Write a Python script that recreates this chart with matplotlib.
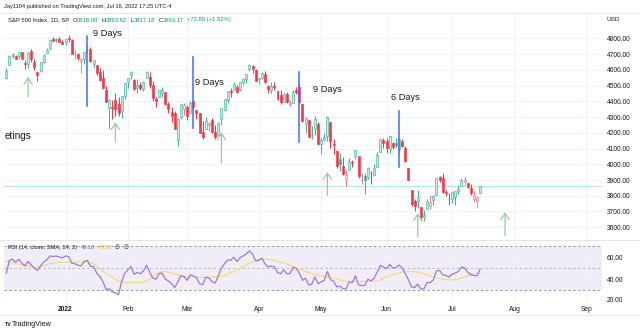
import numpy as np
import pandas as pd
import matplotlib.pyplot as plt
from matplotlib.transforms import Bbox, TransformedBbox

plt.rcParams['font.family'] = ['Liberation Sans', 'DejaVu Sans']

# exchange holidays inside the plotted range (also the empty future part)
holidays = ['2021-12-24', '2022-01-17', '2022-02-21', '2022-04-15',
            '2022-05-30', '2022-06-20', '2022-07-04', '2022-09-05']

# S&P 500 daily bars, 2021-12-06 .. 2022-07-15
opens = [
    4548.37, 4631.97, 4690.86, 4691.00, 4687.64, 4710.30, 4642.99, 4636.46, 4719.13, 4652.50,
    4587.90, 4594.96, 4650.36, 4703.96, 4733.99, 4795.49, 4788.64, 4794.23, 4775.21,
    4778.14, 4804.51, 4787.99, 4693.39, 4697.66, 4655.34, 4669.14, 4728.59, 4733.56, 4637.99,
    4632.24, 4588.03, 4547.35, 4471.38, 4356.32, 4366.64, 4408.43, 4380.58, 4336.19, 4431.79,
    4519.57, 4566.39, 4535.41, 4482.79, 4505.75, 4480.02, 4547.00, 4553.24, 4506.27, 4412.61,
    4429.28, 4455.75, 4456.06, 4384.57, 4332.74, 4324.93, 4155.77, 4298.38, 4354.17,
    4363.14, 4322.56, 4401.31, 4342.12, 4327.01, 4202.66, 4223.10, 4252.55, 4279.50, 4202.75,
    4188.82, 4288.14, 4345.11, 4407.34, 4462.40, 4469.10, 4493.10, 4469.98, 4522.66, 4541.09,
    4602.86, 4624.20, 4599.02,
    4540.32, 4547.97, 4572.45, 4494.17, 4474.65, 4494.15, 4462.64, 4437.59, 4394.30, 4449.12,
    4385.63, 4390.63, 4472.26, 4489.17, 4385.83, 4255.34, 4278.14, 4186.52, 4222.58, 4253.75,
    4130.61, 4159.78, 4181.18, 4270.43, 4128.17, 4081.27, 4035.18, 3990.08, 3903.95, 3963.90,
    4013.02, 4052.00, 4051.98, 3899.00, 3927.76, 3919.42, 3942.94, 3929.59, 3984.60, 4077.43,
    4151.09,
    4149.78, 4095.41, 4137.57, 4134.72, 4096.47, 4147.12, 4101.65, 3974.39, 3838.15, 3763.52,
    3764.05, 3728.18, 3665.90, 3715.31, 3733.89, 3774.71, 3805.97, 3920.76, 3913.00, 3825.09,
    3785.99,
    3781.00, 3792.61, 3831.98, 3858.85, 3888.26, 3880.94, 3851.95, 3779.67, 3763.99, 3818.00,
]
highs = [
    4612.60, 4694.04, 4705.06, 4695.26, 4713.57, 4710.30, 4660.47, 4712.60, 4731.99, 4666.70,
    4587.90, 4651.14, 4697.67, 4740.74, 4791.49, 4807.02, 4804.06, 4808.93, 4786.83,
    4796.64, 4818.62, 4797.70, 4725.01, 4707.95, 4673.02, 4714.13, 4748.83, 4744.13, 4665.13,
    4632.24, 4611.55, 4602.11, 4494.52, 4417.35, 4411.01, 4453.23, 4428.74, 4432.72, 4516.89,
    4550.49, 4595.31, 4542.88, 4539.66, 4521.86, 4531.32, 4590.03, 4588.92, 4526.33, 4426.22,
    4472.77, 4489.55, 4456.06, 4394.60, 4362.12, 4341.51, 4294.73, 4385.34, 4388.84,
    4378.45, 4401.48, 4416.78, 4342.12, 4327.01, 4276.94, 4299.40, 4268.28, 4291.01, 4247.57,
    4271.05, 4357.86, 4412.67, 4465.40, 4481.75, 4522.00, 4501.07, 4520.58, 4546.03, 4575.65,
    4637.30, 4627.77, 4603.07,
    4548.70, 4583.50, 4593.45, 4503.94, 4521.16, 4520.41, 4464.35, 4471.00, 4453.92, 4460.46,
    4410.31, 4471.03, 4488.29, 4512.94, 4385.83, 4299.02, 4278.14, 4240.71, 4308.45, 4269.68,
    4169.81, 4200.10, 4307.66, 4270.43, 4157.69, 4081.27, 4068.82, 4049.09, 3964.80, 4038.88,
    4026.97, 4090.72, 4051.98, 3945.96, 3943.42, 3981.88, 3955.68, 3999.33, 4075.14, 4158.49,
    4168.34,
    4166.54, 4177.51, 4142.67, 4168.78, 4164.86, 4160.14, 4119.10, 3974.39, 3838.15, 3778.18,
    3837.56, 3728.18, 3707.71, 3779.65, 3801.79, 3802.58, 3913.65, 3927.72, 3945.86, 3836.50,
    3818.99,
    3829.82, 3832.19, 3870.91, 3910.63, 3918.50, 3880.94, 3873.41, 3829.44, 3796.41, 3863.62,
]
lows = [
    4540.51, 4631.97, 4674.52, 4665.98, 4670.24, 4667.60, 4606.52, 4611.22, 4651.89, 4600.22,
    4531.10, 4583.16, 4645.53, 4703.96, 4733.99, 4780.04, 4778.08, 4775.33, 4765.75,
    4758.17, 4774.27, 4699.44, 4671.26, 4662.74, 4582.24, 4638.27, 4706.71, 4650.29, 4614.75,
    4568.70, 4530.20, 4477.95, 4395.34, 4222.62, 4287.11, 4304.80, 4309.50, 4292.46, 4414.02,
    4483.53, 4544.32, 4470.39, 4451.50, 4471.47, 4465.40, 4547.00, 4484.31, 4401.41, 4364.84,
    4429.28, 4429.68, 4373.81, 4327.22, 4267.11, 4221.51, 4114.65, 4286.83, 4315.12,
    4279.54, 4322.56, 4345.56, 4284.98, 4199.85, 4157.87, 4223.10, 4209.80, 4200.49, 4161.72,
    4187.90, 4246.66, 4335.65, 4390.57, 4424.30, 4469.10, 4455.81, 4465.17, 4501.07, 4517.69,
    4589.66, 4581.32, 4530.41,
    4507.57, 4539.21, 4514.17, 4450.04, 4450.30, 4474.60, 4408.38, 4381.34, 4392.70, 4390.77,
    4370.30, 4390.63, 4448.76, 4384.47, 4267.62, 4200.82, 4175.04, 4162.90, 4188.63, 4124.28,
    4062.51, 4147.08, 4148.91, 4106.01, 4067.91, 3975.48, 3958.17, 3928.82, 3858.87, 3963.90,
    3982.74, 4033.93, 3911.91, 3876.58, 3810.32, 3909.04, 3875.13, 3925.03, 3984.60, 4077.43,
    4104.88,
    4073.85, 4074.37, 4098.67, 4109.18, 4080.19, 4107.20, 4017.17, 3900.16, 3734.30, 3705.68,
    3722.30, 3639.77, 3636.87, 3715.31, 3717.69, 3743.52, 3805.97, 3889.66, 3820.14, 3799.02,
    3738.67,
    3752.10, 3742.06, 3809.37, 3858.85, 3869.34, 3847.22, 3802.36, 3759.07, 3721.56, 3817.18,
]
closes = [
    4591.67, 4686.75, 4701.21, 4667.45, 4712.02, 4668.97, 4634.09, 4709.85, 4668.67, 4620.64,
    4568.02, 4649.23, 4696.56, 4725.79, 4791.19, 4786.35, 4793.06, 4778.73, 4766.18,
    4796.56, 4793.54, 4700.58, 4696.05, 4677.03, 4670.29, 4713.07, 4726.35, 4659.03, 4662.85,
    4577.11, 4532.76, 4482.73, 4397.94, 4410.13, 4356.45, 4349.93, 4326.51, 4431.85, 4515.55,
    4546.54, 4589.38, 4477.44, 4500.53, 4483.87, 4521.54, 4587.18, 4504.08, 4418.64, 4401.67,
    4471.07, 4475.01, 4380.26, 4348.87, 4304.76, 4225.50, 4288.70, 4384.65, 4373.94,
    4306.26, 4386.54, 4363.49, 4328.87, 4201.09, 4170.70, 4277.88, 4259.52, 4204.31, 4173.11,
    4262.45, 4357.86, 4411.67, 4463.12, 4461.18, 4511.61, 4456.24, 4520.16, 4543.06, 4575.52,
    4631.60, 4602.45, 4530.41,
    4545.86, 4582.64, 4525.12, 4481.15, 4500.21, 4488.28, 4412.53, 4397.45, 4446.59, 4392.59,
    4391.69, 4462.21, 4459.45, 4393.66, 4271.78, 4296.12, 4175.20, 4183.96, 4287.50, 4131.93,
    4155.38, 4175.48, 4300.17, 4146.87, 4123.34, 3991.24, 4001.05, 3935.18, 3930.08, 4023.89,
    4008.01, 4088.85, 3923.68, 3900.79, 3901.36, 3973.75, 3941.48, 3978.73, 4057.84, 4158.24,
    4132.15,
    4101.23, 4176.82, 4108.54, 4121.43, 4160.68, 4115.77, 4017.82, 3900.86, 3749.63, 3735.48,
    3789.99, 3666.77, 3674.84, 3764.79, 3759.89, 3795.73, 3911.74, 3900.11, 3821.55, 3818.83,
    3785.38,
    3825.33, 3831.39, 3845.08, 3902.62, 3899.38, 3854.43, 3818.80, 3801.78, 3790.38, 3863.17,
]

# RSI(14) and its 14-bar SMA, one value per bar
rsi = [
    45.5, 57.0, 58.0, 55.4, 58.0, 54.5, 52.0, 56.0, 53.0, 50.0, 48.0, 52.0, 55.4, 57.5, 61.0,
    60.5, 61.0, 60.0, 59.3,
    61.0, 60.5, 54.5, 54.0, 52.7, 52.0, 56.0, 57.0, 51.5, 51.5, 45.5, 42.5, 38.0, 30.5, 31.5,
    28.5, 27.8, 26.0, 38.0, 45.5,
    48.5, 51.5, 44.5, 46.0, 45.0, 47.5, 52.5, 46.5, 41.0, 40.0, 45.0, 45.5, 40.0, 38.5, 36.0,
    32.5, 37.5, 43.0, 42.5,
    39.0, 44.0, 43.0, 41.5, 36.0, 35.0, 42.0, 41.0, 38.0, 36.5, 43.0, 50.0, 54.0, 57.5, 57.0,
    60.0, 56.0, 59.5, 61.0, 63.0, 65.5, 62.5, 56.5,
    57.0, 59.0, 54.0, 51.0, 52.0, 51.0, 46.0, 45.0, 48.5, 45.0, 45.0, 50.5, 50.0, 45.5, 39.0,
    41.0, 35.0, 35.5, 42.0, 36.0,
    37.5, 39.0, 47.0, 39.5, 38.5, 33.0, 33.8, 31.5, 31.3, 37.5, 37.0, 43.0, 35.0, 34.3, 34.4,
    40.0, 38.5, 41.0, 46.5, 52.5, 51.0,
    49.5, 53.5, 50.0, 50.7, 52.8, 50.2, 45.0, 39.5, 33.0, 32.5, 35.5, 31.0, 31.5, 37.0, 37.0,
    39.5, 47.5, 48.0, 44.0, 43.4, 42.0,
    44.6, 45.5, 47.0, 51.0, 50.3, 46.4, 44.0, 43.4, 43.0, 49.16,
]
rsi_ma = [
    56.0, 55.6, 55.2, 54.3, 53.6, 53.0, 52.4, 51.8, 51.4, 51.1, 51.0, 51.6, 52.4, 53.2, 54.0,
    54.5, 54.9, 55.2, 55.3,
    55.4, 55.5, 55.5, 55.6, 55.6, 55.5, 55.5, 55.4, 54.8, 53.5, 51.5, 49.5, 47.5, 45.5, 43.5,
    41.5, 39.8, 38.3, 37.5, 37.1,
    36.9, 36.8, 36.8, 36.9, 37.0, 37.5, 38.5, 40.0, 42.0, 44.0, 46.0, 46.8, 47.0, 46.5, 45.7,
    44.8, 43.9, 43.2, 42.6,
    42.2, 42.0, 42.0, 41.9, 41.5, 41.4, 41.5, 41.7, 42.0, 42.3, 42.5, 42.6, 43.2, 44.5, 45.8,
    47.0, 48.2, 49.8, 51.5, 53.0, 54.5, 56.0, 57.2,
    58.0, 58.4, 58.3, 57.9, 57.3, 57.0, 56.2, 55.3, 54.5, 53.6, 52.6, 51.6, 50.3, 49.0, 47.9,
    47.0, 46.0, 45.0, 44.2, 43.6,
    43.0, 42.5, 42.1, 41.6, 41.0, 40.3, 39.5, 38.7, 38.2, 38.0, 38.0, 38.0, 38.0, 38.0, 38.0,
    37.9, 38.0, 38.0, 38.2, 39.5, 41.0,
    42.2, 43.2, 44.2, 44.9, 45.7, 46.3, 46.8, 47.0, 47.0, 47.0, 46.5, 45.7, 45.0, 44.0, 43.0,
    42.2, 41.5, 40.5, 40.0, 39.6, 39.4,
    39.4, 39.6, 40.2, 41.0, 42.0, 43.2, 44.5, 45.0, 45.3, 45.53,
]

# drawn studies: vertical count markers and buy arrows
count_lines = [('2022-01-12', 4815, 4369), ('2022-03-03', 4683, 4233),
               ('2022-04-21', 4585, 4140), ('2022-06-07', 4337, 3980)]
buy_arrows = [('2021-12-15', 4428, 4555), ('2022-01-26', 4140, 4267),
              ('2022-03-16', 4006, 4203), ('2022-05-04', 3803, 3950),
              ('2022-06-15', 3537, 3689), ('2022-07-27', 3547, 3696)]

W, H = 640, 332
TXT = '#131722'
GRID = '#f0f3fa'
BORDER = '#e0e3eb'


def fx(px):
    return px / W


def fy(py):
    return 1 - py / H


days = pd.bdate_range('2021-12-06', '2022-09-30', freq='C', holidays=holidays)
pos = {d.strftime('%Y-%m-%d'): i for i, d in enumerate(days)}
month_idx = [i for i in range(1, len(days)) if days[i].month != days[i - 1].month]
month_lbl = ['2022' if days[i].month == 1 else days[i].strftime('%b') for i in month_idx]

o, h, l, c = map(np.array, (opens, highs, lows, closes))
x = np.arange(len(c))
prev = np.r_[o[0], c[:-1]]
rising = c >= prev
hollow = c >= o

fig = plt.figure(figsize=(W / 100, H / 100), dpi=100)
ax = fig.add_axes([fx(4), fy(239.5), fx(602) - fx(4), fy(12.7) - fy(239.5)])
ax2 = fig.add_axes([fx(4), fy(301), fx(602) - fx(4), fy(239.5) - fy(301)], sharex=ax)

for a in (ax, ax2):
    for s in a.spines.values():
        s.set_visible(False)
    a.set_xticks(month_idx)
    a.grid(True, color=GRID, lw=0.8, zorder=0)
    a.set_axisbelow(True)
    a.yaxis.tick_right()
    a.tick_params(length=0, labelsize=4.8, labelcolor=TXT, pad=3.4)

ax.set_xlim(-0.74, 191.1)
ax.set_ylim(3522, 4963)
ax.set_yticks(np.arange(3600, 4900, 100))
ax.set_yticklabels([f'{v:.2f}' for v in np.arange(3600, 4900, 100)])
ax.tick_params(axis='x', labelbottom=False)

# candles (hollow style)
edge = np.where(rising, '#3fb49d', '#f23645')
edge = np.where(~rising & hollow, '#f37985', edge)
face = np.where(rising, np.where(hollow, '#c6ebe3', '#26a69a'),
                np.where(hollow, '#fcdde0', '#f23645'))
ax.axhline(c[-1], color='#b9e5da', lw=0.8, zorder=1)
ax.vlines(x, l, h, colors=edge, lw=0.7, zorder=2)
ax.bar(x, np.maximum(np.abs(c - o), 2.0), bottom=np.minimum(o, c), width=0.64,
       color=face, edgecolor=edge, linewidth=0.45, zorder=3)

for d, top, bot in count_lines:
    ax.plot([pos[d], pos[d]], [bot, top], color='#3f6ef0', lw=1.1, zorder=4)
for d, tail, tip in buy_arrows:
    ax.annotate('', xy=(pos[d], tip), xytext=(pos[d], tail), zorder=4,
                arrowprops=dict(arrowstyle='->,head_length=0.45,head_width=0.3',
                                color='#8fd19a', lw=0.9, shrinkA=0, shrinkB=0))

for txt, xi, yp in [('9 Days', 27.8, 4834), ('9 Days', 60.4, 4518),
                    ('9 Days', 98.4, 4477), ('6 Days', 123.4, 4426)]:
    ax.text(xi, yp, txt, fontsize=6.7, color=TXT, va='center', ha='left', zorder=5)
ax.text(-0.55, 4178, 'etings', fontsize=7.2, color=TXT, va='center', ha='left', zorder=5)

# RSI pane
ax2.set_ylim(20.34, 75.87)
ax2.set_yticks([40, 60])
ax2.set_yticklabels(['40.00', '60.00'])
ax2.axhspan(30, 70, color='#7e57c2', alpha=0.1, lw=0, zorder=0.5)
ax2.axhline(70, color='#9598a1', lw=0.7, ls=(0, (2.5, 2.5)), zorder=1)
ax2.axhline(50, color='#b8bac2', lw=0.7, ls=(0, (2.5, 2.5)), zorder=1)
ax2.axhline(30, color='#9598a1', lw=0.7, ls=(0, (2.5, 2.5)), zorder=1)
ax2.plot(x, rsi_ma, color='#f4dc78', lw=0.9, zorder=2)
ax2.plot(x, rsi, color='#9b7ad6', lw=0.9, zorder=3)
ax2.set_xticklabels(month_lbl)
for t in ax2.get_xticklabels():
    if t.get_text() == '2022':
        t.set_fontweight('bold')

low_lbl = fig.text(fx(606.7), fy(300.7), '20.00', fontsize=4.8, color=TXT, va='center')
low_lbl.set_clip_box(TransformedBbox(Bbox.from_extents(fx(602), fy(302.3), 1, fy(240)),
                                     fig.transFigure))
low_lbl.set_clip_on(True)

# frame lines between panes
for yy in (12.7, 239.5, 315):
    fig.add_artist(plt.Line2D([0, 1], [fy(yy), fy(yy)], color=BORDER, lw=0.6))


def text_run(host, px0, py, pieces, size):
    """Write coloured pieces one after another on a single line."""
    prev_t = fig.text(fx(px0), fy(py), pieces[0][0], fontsize=size,
                      color=pieces[0][1], va='center', zorder=10)
    for s, col, gap in pieces[1:]:
        prev_t = host.annotate(s, xy=(1, 0.5), xycoords=prev_t, xytext=(gap, 0),
                               textcoords='offset points', fontsize=size, color=col,
                               va='center', ha='left', annotation_clip=False, zorder=10)


fig.text(fx(4), fy(6.7), 'Jay1104 published on TradingView.com, Jul 16, 2022 17:25 UTC-4',
         fontsize=4.1, color=TXT, va='center')
GREEN = '#089981'
text_run(ax, 8, 20, [('S&P 500 Index, 1D, SP', TXT), ('O', TXT, 2.6), ('3818.00', GREEN, 0),
                     ('H', TXT, 2.4), ('3863.62', GREEN, 0), ('L', TXT, 2.4),
                     ('3817.18', GREEN, 0), ('C', TXT, 2.4), ('3863.17', GREEN, 0),
                     ('+72.80 (+1.92%)', GREEN, 2.6)], 4.2)
fig.text(fx(606.7), fy(19.3), 'USD', fontsize=4.6, color=TXT, va='center')

text_run(ax2, 8.3, 247.3, [('RSI (14, close, SMA, 14, 2)', TXT), ('49.16', '#7e57c2', 2.3),
                           ('45.53', '#e8c840', 2.3), ('\u2205', TXT, 2.0),
                           ('\u2205', TXT, 2.5)], 4.1)

fig.text(fx(4.5), fy(324), 'TV', fontsize=3.9, color=TXT, va='center', fontweight='heavy')
fig.text(fx(11.5), fy(324), 'TradingView', fontsize=5.2, color=TXT, va='center')

fig.savefig('out.png', dpi=100, facecolor='white')
